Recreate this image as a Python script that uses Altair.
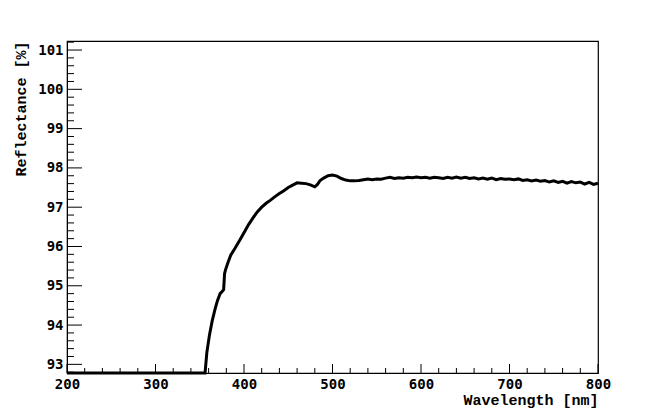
import altair as alt
import pandas as pd

wavelength = [200, 356, 358, 361, 364, 367, 370, 373, 376, 377, 378, 379, 382, 385,
              390, 395, 400, 405, 410, 415, 420, 425, 430, 435, 440, 445, 450, 455,
              460, 465, 470, 475, 480, 483, 486, 490, 495, 500, 505, 510, 515, 520,
              525, 530, 535, 540, 545, 550, 555, 560, 565, 570, 575, 580, 585, 590,
              595, 600, 605, 610, 615, 620, 625, 630, 635, 640, 645, 650, 655, 660,
              665, 670, 675, 680, 685, 690, 695, 700, 705, 710, 715, 720, 725, 730,
              735, 740, 745, 750, 755, 760, 765, 770, 775, 780, 785, 790, 795, 800]
reflectance = [92.78, 92.78, 93.30, 93.75, 94.10, 94.38, 94.62, 94.80, 94.87, 94.90,
               95.30, 95.40, 95.60, 95.78, 95.96, 96.15, 96.35, 96.55, 96.72, 96.88,
               97.00, 97.10, 97.18, 97.27, 97.35, 97.42, 97.50, 97.56, 97.62, 97.61,
               97.60, 97.57, 97.52, 97.58, 97.68, 97.74, 97.80, 97.82, 97.79, 97.73,
               97.69, 97.67, 97.67, 97.68, 97.70, 97.72, 97.70, 97.72, 97.71, 97.74,
               97.76, 97.73, 97.75, 97.74, 97.76, 97.75, 97.77, 97.75, 97.76, 97.74,
               97.76, 97.75, 97.73, 97.76, 97.74, 97.77, 97.74, 97.76, 97.73, 97.75,
               97.72, 97.74, 97.71, 97.74, 97.70, 97.73, 97.71, 97.72, 97.70, 97.72,
               97.68, 97.70, 97.67, 97.69, 97.66, 97.68, 97.64, 97.67, 97.63, 97.66,
               97.61, 97.65, 97.62, 97.64, 97.59, 97.63, 97.58, 97.61]

x_major = [200, 300, 400, 500, 600, 700, 800]
x_minor = [v for v in range(220, 800, 20) if v % 100 != 0]
y_major = [93, 94, 95, 96, 97, 98, 99, 100, 101]
y_minor = [round(92.8 + 0.2 * i, 1) for i in range(43) if (i - 1) % 5 != 0]

X_DOM = [200, 800]
Y_DOM = [92.78, 101.23]
W, H = 531, 332

df = pd.DataFrame({"wl": wavelength, "r": reflectance})

xs = alt.Scale(domain=X_DOM, nice=False, zero=False)
ys = alt.Scale(domain=Y_DOM, nice=False, zero=False)

LABEL_FONT = "DejaVu Sans Mono"
TITLE_FONT = "Liberation Mono"

line = alt.Chart(df).mark_line(color="black", strokeWidth=3, clip=False).encode(
    x=alt.X("wl:Q", scale=xs, axis=alt.Axis(
        values=x_major, format="d", title="Wavelength [nm]",
        ticks=False, tickSize=0, grid=False, labelPadding=4, labelFlush=False,
        domainColor="black", domainWidth=1,
        labelFont=LABEL_FONT, labelFontSize=14, labelFontWeight="bold", labelColor="black",
        titleFont=TITLE_FONT, titleFontSize=15, titleFontWeight="bold", titleColor="black",
        titleAnchor="end", titleAlign="right", titleX=W, titleY=26, titleBaseline="middle",
    )),
    y=alt.Y("r:Q", scale=ys, axis=alt.Axis(
        values=y_major, format="d", title="Reflectance [%]",
        ticks=False, tickSize=0, grid=False, labelPadding=4, labelFlush=False,
        domainColor="black", domainWidth=1,
        labelFont=LABEL_FONT, labelFontSize=14, labelFontWeight="bold", labelColor="black",
        labelBaseline="middle",
        titleFont=TITLE_FONT, titleFontSize=15, titleFontWeight="bold", titleColor="black",
        titleAngle=270, titleAlign="right", titleBaseline="middle", titleX=-47, titleY=0,
    )),
)

ymaj = alt.Chart(pd.DataFrame({"v": y_major})).mark_rule(color="black", strokeWidth=1).encode(
    y=alt.Y("v:Q", scale=ys), x=alt.value(0), x2=alt.value(15))
ymin = alt.Chart(pd.DataFrame({"v": y_minor})).mark_rule(color="black", strokeWidth=1).encode(
    y=alt.Y("v:Q", scale=ys), x=alt.value(0), x2=alt.value(7))
xmaj = alt.Chart(pd.DataFrame({"v": x_major})).mark_rule(color="black", strokeWidth=1).encode(
    x=alt.X("v:Q", scale=xs), y=alt.value(H), y2=alt.value(H - 9))
xmin = alt.Chart(pd.DataFrame({"v": x_minor})).mark_rule(color="black", strokeWidth=1).encode(
    x=alt.X("v:Q", scale=xs), y=alt.value(H), y2=alt.value(H - 5))

chart = alt.layer(ymin, ymaj, xmin, xmaj, line).properties(
    width=W, height=H,
    background="white",
    autosize=alt.AutoSizeParams(type="none"),
    padding={"left": 59, "top": 33, "right": 40, "bottom": 36},
).configure_view(stroke="black", strokeWidth=1.2)

chart.save("out.html", embed_options={"renderer": "svg", "actions": False})
